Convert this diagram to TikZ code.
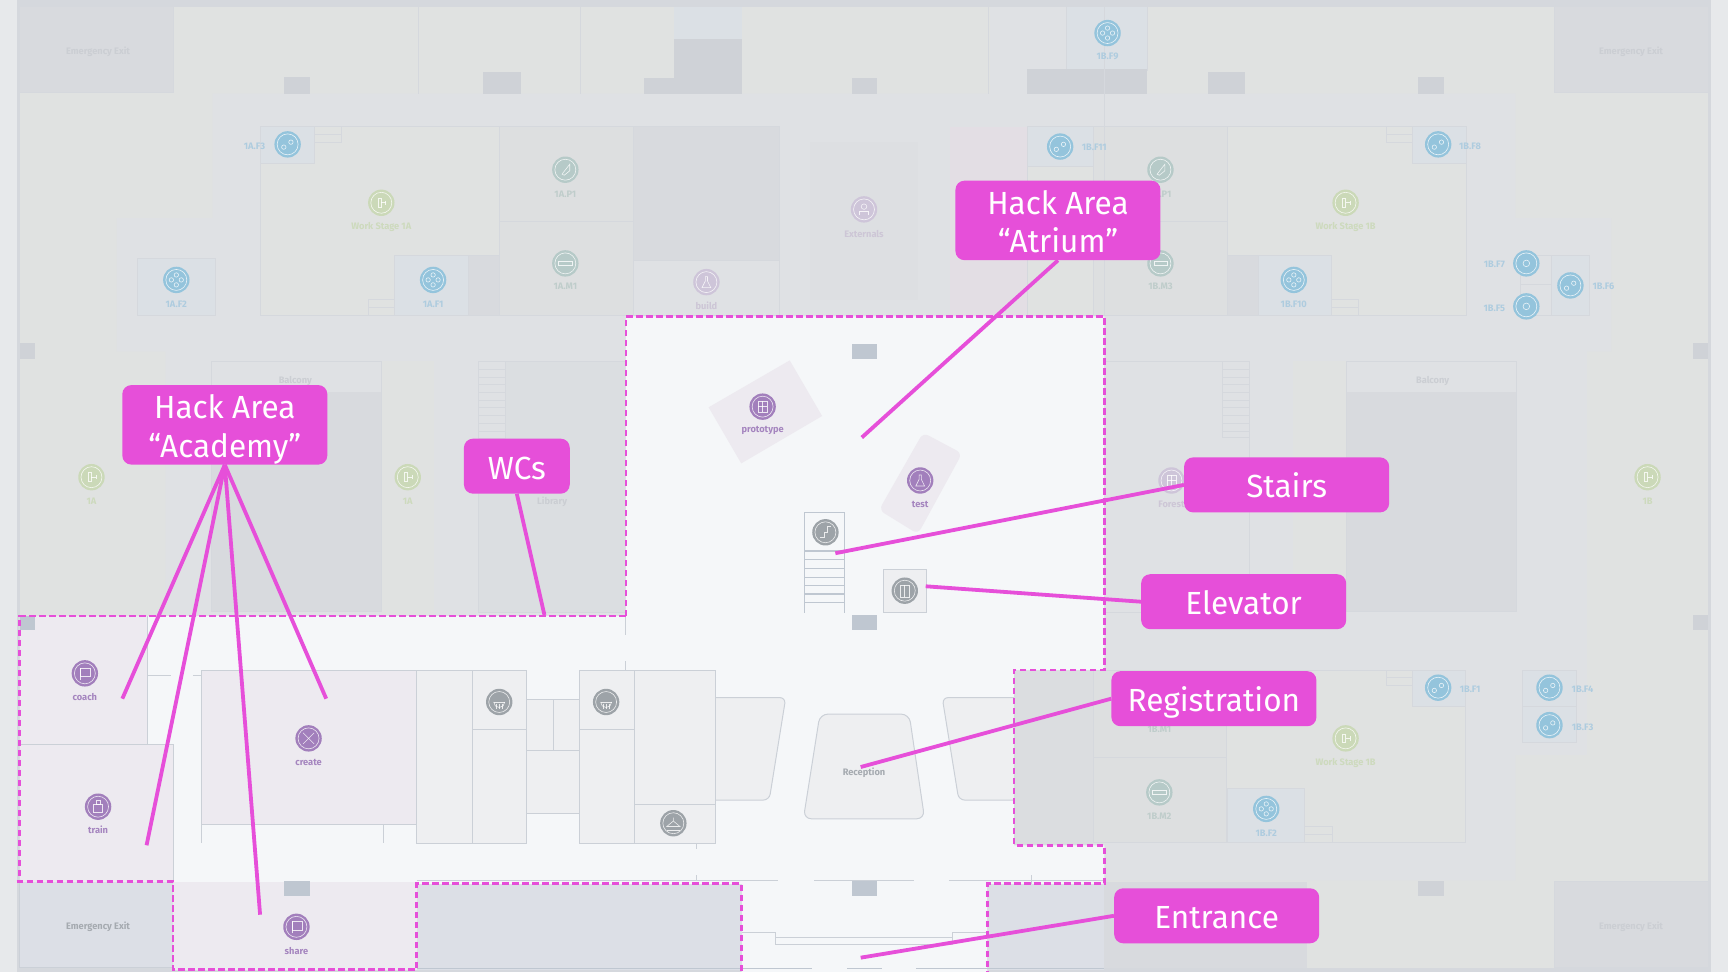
\documentclass[tikz,border=0pt]{standalone}
\usepackage{fontspec}
\setmainfont[FakeStretch=0.985]{Fira Sans}
\definecolor{margin}{HTML}{E7E9EB}
\definecolor{strip}{HTML}{D9DBDF}
\definecolor{floorg}{HTML}{E0E2E1}
\definecolor{corr}{HTML}{DFE1E4}
\definecolor{exitd}{HTML}{D8DADE}
\definecolor{colm}{HTML}{CFD2D7}
\definecolor{wallb}{HTML}{D5D8DD}
\definecolor{light}{HTML}{F5F7F9}
\definecolor{purp}{HTML}{EDEAF0}
\definecolor{blueroom}{HTML}{DBE0E5}
\definecolor{hlroom}{HTML}{DCDFE6}
\definecolor{pinkroom}{HTML}{E3DEE4}
\definecolor{wallc}{HTML}{CBD0D7}
\definecolor{colc}{HTML}{BFC7D1}
\definecolor{block}{HTML}{EEEFF1}
\definecolor{hot}{HTML}{E64FD9}
\definecolor{iblue}{HTML}{94C4DC}
\definecolor{igreen}{HTML}{CBD9B8}
\definecolor{iteal}{HTML}{B6CAC8}
\definecolor{ipurd}{HTML}{CEC5D9}
\definecolor{ipur}{HTML}{A27FBC}
\definecolor{igray}{HTML}{9DA3A8}
\definecolor{lblue}{HTML}{AECCDF}
\definecolor{lgreen}{HTML}{CDDABD}
\definecolor{lteal}{HTML}{BFCDCB}
\definecolor{lgray}{HTML}{CBCED3}
\definecolor{lpur}{HTML}{A585BF}
\definecolor{lgraystrong}{HTML}{A5AAB0}
\definecolor{lpurd}{HTML}{CDC6D6}
\newcounter{lblc}
\newcommand\lbl[4]{\stepcounter{lblc}\node[maplabel,text=#3] (lab\thelblc) at (#1,#2) {#4};}
\newcommand\mapicon[5]{%
  \node[iconbase,fill=#4] (#1) at (#2,#3) {};
  \begin{scope}[shift={(#2,#3)},white,line width=.6pt,draw opacity=.8]
    \draw (0,0) circle (9.5);
    #5
  \end{scope}}
\newcommand\gTwo{\draw (-3.5,2.5) circle (2); \draw (3,-2) circle (2);}
\newcommand\gOne{\draw (0,0) circle (3);}
\newcommand\gFour{\foreach \a/\b in {0/-4.5,0/4.5,-4.5/0,4.5/0}{\draw (\a,\b) circle (2);}}
\newcommand\gStage{\draw (-3,-4) rectangle (0,4); \draw (0,0) -- (4,0); \draw (4,-2) -- (4,2);}
\newcommand\gBar{\draw (-6,-1.5) rectangle (6,1.5);}
\newcommand\gRocket{\draw (-3,4) -- (4,-5) -- (4,1) -- (-1,5) -- cycle;}
\newcommand\gPerson{\draw (0,-2.5) circle (2.5); \draw (-4,5) -- (-4,2) -- (4,2) -- (4,5);}
\newcommand\gTree{\draw (-4,-5) rectangle (4,5); \draw (-4,0) -- (4,0); \draw (0,-5) -- (0,5);}
\newcommand\gFlask{\draw (-1,-5) -- (1,-5) -- (1,-1) -- (4,5) -- (-4,5) -- (-1,-1) -- cycle;}
\newcommand\gCross{\draw (-5,-5) -- (5,5); \draw (-5,5) -- (5,-5);}
\newcommand\gRain{\draw (-5,0) arc (180:0:5); \draw (-5,0) -- (5,0); \foreach \a in {-3,0,3}{\draw (\a,1.5) -- (\a,6);}}
\newcommand\gHanger{\draw (0,-5) -- (0,-2) -- (6,3) -- (-6,3) -- (0,-2); \draw (-6,6) -- (6,6);}
\newcommand\gStair{\draw (-5,5) -- (-1,5) -- (-1,0) -- (2,0) -- (2,-5) -- (5,-5);}
\newcommand\gLift{\draw (-4,-5) rectangle (4,6); \draw (0,-5) -- (0,6);}
\newcommand\gFlag{\draw (-4,-5) rectangle (5,3); \draw (-4,6) -- (-4,-5);}
\newcommand\gBottle{\draw (-2,-6) rectangle (2,-2); \draw (-4,-2) rectangle (4,5);}
\newcommand\tp{\rule{0pt}{33pt}}
\newcommand\bt{\rule[-7pt]{0pt}{0pt}}
\tikzset{
  dimwall/.style={draw=wallb,line width=.7pt},
  lightwall/.style={draw=wallc,line width=1pt},
  colblock/.style={fill=colm,draw=none},
  colstrong/.style={fill=colc,draw=none},
  iconbase/.style={circle,draw=none,minimum size=26.4pt,inner sep=0pt},
  maplabel/.style={font=\bfseries\fontsize{9.4pt}{10pt}\selectfont,inner sep=0pt,yshift=-1pt},
  callout/.style={fill=hot,rounded corners=9pt,text=white,align=center,inner sep=0pt,
    font=\fontsize{32pt}{38.5pt}\selectfont,minimum width=205pt,minimum height=55pt},
  leader/.style={draw=hot,line width=3.8pt},
  hackline/.style={draw=hot,line width=2.7pt,dash pattern=on 6.5pt off 3.5pt}
}
\begin{document}
\begin{tikzpicture}[x=1.10204pt,y=-1.10204pt]
\useasboundingbox (0,0) rectangle (1568,882);
% base
\fill[margin] (0,0) rectangle (1568,882);
\fill[wallb] (15,0) rectangle (1553,882);
\fill[floorg] (18,6) rectangle (1550,878);
% corridor
\fill[corr] (193,85) -- (1375,85) -- (1375,198) -- (1462,198) -- (1462,319) -- (1440,319) -- (1440,685) -- (1375,685) -- (1375,799) -- (150,799) -- (150,319) -- (106,319) -- (106,198) -- (193,198) -- cycle;
\fill[floorg] (346,328) rectangle (394,558);
\fill[floorg] (1173,328) rectangle (1222,558);
% top band
\draw[dimwall] (380,6) -- (380,85);
\draw[dimwall] (527,6) -- (527,85);
\draw[dimwall] (897,6) -- (897,85);
\fill[corr] (898,6) rectangle (968,85);
\fill[blueroom] (612,6) rectangle (673,35);
\fill[colm] (612,35) rectangle (673,85);
\fill[colm] (584,71) rectangle (612,85);
\draw[dimwall,fill=blueroom] (968,6) rectangle (1041,64);
\fill[colm] (932,63) rectangle (1041,85);
% exits
\draw[dimwall,fill=exitd] (18,6) rectangle (157,84);
\draw[dimwall,fill=exitd] (1410,6) rectangle (1550,84);
\draw[dimwall,fill=exitd] (1410,800) rectangle (1550,878);
\fill[exitd] (1002,800) rectangle (1186,878);
% columns
\foreach \a/\b/\c/\d in {258/70/281/85,438/65/473/85,773/71/796/85,1096/65/1130/85,1287/70/1310/85,1287/799/1310/813,18/311/32/326,1536/311/1550/326,1536/558/1550/572}{
  \fill[colblock] (\a,\b) rectangle (\c,\d);}
% upper rooms left
\draw[dimwall,fill=floorg] (236,115) rectangle (453,286);
\draw[dimwall,fill=blueroom] (236,115) rectangle (285,148);
\draw[dimwall,fill=floorg] (285,115) rectangle (310,129);
\draw[dimwall] (285,122) -- (310,122);
\draw[dimwall,fill=blueroom] (125,234) rectangle (195,286);
\draw[dimwall,fill=blueroom] (358,232) rectangle (425,286);
\draw[dimwall,fill=exitd] (425,232) rectangle (453,286);
\draw[dimwall] (334,272) rectangle (358,286);
\draw[dimwall] (334,279) -- (358,279);
\draw[dimwall,fill=exitd!40!floorg] (453,115) rectangle (575,201);
\draw[dimwall,fill=exitd!40!floorg] (453,201) rectangle (575,286);
\draw[dimwall,fill=exitd] (575,115) rectangle (707,236);
\draw[dimwall,fill=corr] (575,236) rectangle (707,286);
\fill[exitd!30!corr] (735,129) rectangle (833,272);
\fill[pinkroom] (862,115) rectangle (932,286);
\draw[dimwall,fill=floorg] (932,115) rectangle (992,286);
\draw[dimwall,fill=blueroom] (932,115) rectangle (992,151);
% upper rooms right
\draw[dimwall,fill=exitd!40!floorg] (992,115) rectangle (1114,201);
\draw[dimwall,fill=exitd!40!floorg] (992,201) rectangle (1114,286);
\draw[dimwall] (1002,6) -- (1002,286);
\draw[dimwall,fill=floorg] (1114,115) rectangle (1331,286);
\draw[dimwall,fill=blueroom] (1282,115) rectangle (1331,148);
\draw[dimwall,fill=floorg] (1258,115) rectangle (1282,129);
\draw[dimwall] (1258,122) -- (1282,122);
\draw[dimwall,fill=exitd] (1114,232) rectangle (1142,286);
\draw[dimwall,fill=blueroom] (1142,232) rectangle (1208,286);
\draw[dimwall,fill=floorg] (1208,272) rectangle (1233,286);
\draw[dimwall] (1208,279) -- (1233,279);
\draw[dimwall,fill=blueroom] (1408,232) rectangle (1442,286);
\draw[dimwall] (1380,232) rectangle (1408,258);
\draw[dimwall] (1380,258) rectangle (1408,286);
% mid rooms
\fill[corr] (192,328) rectangle (346,356);
\fill[exitd] (192,356) rectangle (346,555);
\draw[wallb,line width=1.2pt] (192,328) rectangle (346,555);
\draw[dimwall,fill=exitd!50!corr] (434,328) rectangle (569,556);
\draw[dimwall,fill=corr] (434,328) rectangle (459,398);
\foreach \yy in {335,342,349,356,363,370,377,384,391}{\draw[dimwall] (434,\yy) -- (459,\yy);}
\draw[dimwall,fill=corr] (1002,328) rectangle (1134,556);
\draw[dimwall,fill=corr] (1109,328) rectangle (1134,397);
\foreach \yy in {335,342,349,356,363,370,377,384,391}{\draw[dimwall] (1109,\yy) -- (1134,\yy);}
\fill[corr] (1222,328) rectangle (1376,356);
\fill[exitd] (1222,356) rectangle (1376,555);
\draw[wallb,line width=1.2pt] (1222,328) rectangle (1376,555);
% lower right rooms
\fill[exitd!60!corr] (920,608) rectangle (992,767);
\draw[dimwall,fill=exitd!40!floorg] (992,608) rectangle (1113,687);
\draw[dimwall,fill=exitd!40!floorg] (992,687) rectangle (1113,764);
\draw[dimwall,fill=floorg] (1113,608) rectangle (1330,764);
\draw[dimwall,fill=blueroom] (1282,608) rectangle (1330,641);
\draw[dimwall] (1258,608) rectangle (1282,622);
\draw[dimwall] (1258,615) -- (1282,615);
\draw[dimwall,fill=blueroom] (1381,608) rectangle (1430,641);
\draw[dimwall,fill=blueroom] (1381,641) rectangle (1430,674);
\draw[dimwall,fill=blueroom] (1114,715) rectangle (1184,764);
\draw[dimwall] (1184,750) rectangle (1209,764);
\draw[dimwall] (1184,757) -- (1209,757);
% light area
\fill[light] (568,287) -- (1002,287) -- (1002,608) -- (920,608) -- (920,767) -- (1002,767) -- (1002,802) -- (896,802) -- (896,882) -- (673,882) -- (673,802) -- (157,802) -- (157,800) -- (18,800) -- (18,559) -- (568,559) -- cycle;
\fill[hlroom] (378,802) rectangle (673,880);
\fill[hlroom] (896,802) rectangle (1002,880);
\fill[hlroom] (18,800) rectangle (157,878);
\draw[wallc,line width=1.2pt] (18,800) -- (18,878) -- (157,878);
\fill[purp] (18,559) rectangle (134,676);
\fill[purp] (18,676) rectangle (157,800);
\fill[purp] (183,608) rectangle (378,748);
\fill[purp] (157,800) rectangle (378,880);
\fill[purp] (716.6,327) -- (746,377.5) -- (672.6,420.5) -- (643,369.6) -- cycle;
\fill[purp,rounded corners=6pt] (837.6,392.6) -- (873,411.4) -- (833,484.6) -- (797.6,462.8) -- cycle;
% strong columns
\foreach \a/\b/\c/\d in {773/312/796/326,773/558/796/572,773/799/796/813,258/799/281/813,18/559/32/572}{
  \fill[colstrong] (\a,\b) rectangle (\c,\d);}
% walls of lower left
\draw[lightwall] (134,559) -- (134,676);
\draw[lightwall] (18,676) -- (157,676) -- (157,800);
\draw[lightwall] (134,613) -- (155,613);
\draw[lightwall] (175,613) -- (183,613);
\draw[lightwall] (183,608) -- (183,765);
\draw[lightwall] (183,608) -- (378,608);
\draw[lightwall] (183,748) -- (378,748);
\draw[lightwall] (348,748) -- (348,765);
% desks
\draw[lightwall,fill=block,rounded corners=6pt] (649,633) -- (713,633) -- (698,726) -- (649,726);
\draw[lightwall,fill=block,rounded corners=6pt] (920,633) -- (855,633) -- (870,726) -- (920,726);
\draw[lightwall,fill=block,rounded corners=8pt] (744,648) -- (825,648) -- (839,743) -- (729,743) -- cycle;
% wc block
\draw[lightwall,fill=block] (378,608) -- (478,608) -- (478,635) -- (526,635) -- (526,608) -- (649,608) -- (649,765) -- (526,765) -- (526,738) -- (478,738) -- (478,765) -- (378,765) -- cycle;
\draw[lightwall] (429,608) -- (429,765);
\draw[lightwall] (429,662) -- (478,662);
\draw[lightwall] (478,635) -- (478,738);
\draw[lightwall] (526,635) -- (526,738);
\draw[lightwall] (502,635) -- (502,681);
\draw[lightwall] (478,681) -- (526,681);
\draw[lightwall] (526,662) -- (576,662);
\draw[lightwall] (576,608) -- (576,765);
\draw[lightwall] (576,730) -- (649,730);
% ticks and entrance
\draw[lightwall] (568,559) -- (568,576);
\draw[lightwall] (568,600) -- (568,608);
\draw[lightwall] (632,765) -- (632,770);
\draw[lightwall] (632,794) -- (632,799);
\draw[lightwall] (936,794) -- (936,802);
\draw[wallc,line width=.8pt] (378,799) -- (706,799);
\draw[wallc,line width=.8pt] (739,799) -- (829,799);
\draw[wallc,line width=.8pt] (861,799) -- (1002,799);
\draw[lightwall] (673,846) -- (704,846) -- (704,857) -- (864,857) -- (864,846) -- (896,846);
\draw[lightwall] (704,851) -- (864,851);
\draw[colc,line width=1.4pt] (378,879) -- (737,879);
\draw[colc,line width=1.4pt] (769,879) -- (800,879);
\draw[colc,line width=1.4pt] (831,879) -- (1002,879);
% stairs
\draw[colc,line width=1.2pt] (730,556) -- (730,465) -- (766,465) -- (766,556);
\foreach \yy in {500,508,516,524,531,539,547}{\draw[colc,line width=1.2pt] (730,\yy) -- (766,\yy);}
\draw[lightwall,fill=block] (802,556) -- (802,517) -- (841,517) -- (841,556) -- cycle;
% icons blue
\mapicon{i1}{261}{131}{iblue}{\gTwo}
\mapicon{i2}{160}{254}{iblue}{\gFour}
\mapicon{i3}{393}{254}{iblue}{\gFour}
\mapicon{i4}{1005}{30}{iblue}{\gFour}
\mapicon{i5}{962}{133}{iblue}{\gTwo}
\mapicon{i6}{1305}{131}{iblue}{\gTwo}
\mapicon{i7}{1174}{254}{iblue}{\gFour}
\mapicon{i8}{1385}{239}{iblue}{\gOne}
\mapicon{i9}{1385}{278}{iblue}{\gOne}
\mapicon{i10}{1425}{259}{iblue}{\gTwo}
\mapicon{i11}{1305}{624}{iblue}{\gTwo}
\mapicon{i12}{1406}{624}{iblue}{\gTwo}
\mapicon{i13}{1406}{658}{iblue}{\gTwo}
\mapicon{i14}{1149}{734}{iblue}{\gFour}
% icons green
\mapicon{i15}{346}{184}{igreen}{\gStage}
\mapicon{i16}{1221}{184}{igreen}{\gStage}
\mapicon{i17}{1221}{670}{igreen}{\gStage}
\mapicon{i18}{83}{433}{igreen}{\gStage}
\mapicon{i19}{370}{433}{igreen}{\gStage}
\mapicon{i20}{1495}{433}{igreen}{\gStage}
% icons teal
\mapicon{i21}{513}{154}{iteal}{\gRocket}
\mapicon{i22}{513}{239}{iteal}{\gBar}
\mapicon{i23}{1053}{154}{iteal}{\gRocket}
\mapicon{i24}{1053}{239}{iteal}{\gBar}
\mapicon{i25}{1052}{719}{iteal}{\gBar}
% icons purple dim
\mapicon{i26}{641}{256}{ipurd}{\gFlask}
\mapicon{i27}{784}{190}{ipurd}{\gPerson}
\mapicon{i28}{1063}{436}{ipurd}{\gTree}
% icons purple strong
\mapicon{i29}{692}{369}{ipur}{\gTree}
\mapicon{i30}{835}{436}{ipur}{\gFlask}
\mapicon{i31}{77}{611}{ipur}{\gFlag}
\mapicon{i32}{89}{732}{ipur}{\gBottle}
\mapicon{i33}{280}{670}{ipur}{\gCross}
\mapicon{i34}{269}{841}{ipur}{\gFlag}
% icons gray
\mapicon{i35}{453}{637}{igray}{\gRain}
\mapicon{i36}{550}{637}{igray}{\gRain}
\mapicon{i37}{611}{747}{igray}{\gHanger}
\mapicon{i38}{749}{483}{igray}{\gStair}
\mapicon{i39}{821}{536}{igray}{\gLift}
% labels
\lbl{89}{46}{lgray}{Emergency Exit}
\lbl{1480}{46}{lgray}{Emergency Exit}
\lbl{89}{840}{lgraystrong}{Emergency Exit}
\lbl{1480}{840}{lgray}{Emergency Exit}
\lbl{231}{132}{lblue}{1A.F3}
\lbl{160}{275}{lblue}{1A.F2}
\lbl{393}{275}{lblue}{1A.F1}
\lbl{1005}{50}{lblue}{1B.F9}
\lbl{993}{133}{lblue}{1B.F11}
\lbl{1334}{132}{lblue}{1B.F8}
\lbl{1174}{275}{lblue}{1B.F10}
\lbl{1356}{239}{lblue}{1B.F7}
\lbl{1356}{279}{lblue}{1B.F5}
\lbl{1455}{259}{lblue}{1B.F6}
\lbl{1334}{625}{lblue}{1B.F1}
\lbl{1436}{625}{lblue}{1B.F4}
\lbl{1436}{659}{lblue}{1B.F3}
\lbl{1149}{755}{lblue}{1B.F2}
\lbl{346}{205}{lgreen}{Work Stage 1A}
\lbl{1221}{205}{lgreen}{Work Stage 1B}
\lbl{1221}{691}{lgreen}{Work Stage 1B}
\lbl{83}{454}{lgreen}{1A}
\lbl{370}{454}{lgreen}{1A}
\lbl{1495}{454}{lgreen}{1B}
\lbl{513}{175}{lteal}{1A.P1}
\lbl{513}{259}{lteal}{1A.M1}
\lbl{1053}{175}{lteal}{1B.P1}
\lbl{1053}{259}{lteal}{1B.M3}
\lbl{1052}{661}{lteal}{1B.M1}
\lbl{1052}{740}{lteal}{1B.M2}
\lbl{641}{277}{lpurd}{build}
\lbl{784}{211}{lpurd}{Externals}
\lbl{1063}{457}{lpurd}{Forest}
\lbl{268}{345}{lgray}{Balcony}
\lbl{1300}{345}{lgray}{Balcony}
\lbl{501}{454}{lgray}{Library}
\lbl{692}{390}{lpur}{prototype}
\lbl{835}{457}{lpur}{test}
\lbl{77}{632}{lpur}{coach}
\lbl{89}{752}{lpur}{train}
\lbl{280}{691}{lpur}{create}
\lbl{269}{862}{lpur}{share}
\lbl{784}{700}{lgraystrong}{Reception}
% dashed outline
\draw[hackline] (568,559) -- (568,287) -- (1002,287) -- (1002,608) -- (920,608) -- (920,767) -- (1002,767) -- (1002,802) -- (896,802) -- (896,882);
\draw[hackline] (568,559) -- (18,559) -- (18,800);
\draw[hackline] (15,800) -- (157,800) -- (157,880) -- (378,880) -- (378,802) -- (673,802) -- (673,882);
% end points of leaders
\coordinate (atriumEnd) at (782,397);
\coordinate (acadA) at (111,634);
\coordinate (acadB) at (133,767);
\coordinate (acadC) at (236,830);
\coordinate (acadD) at (296,634);
\coordinate (wcEnd) at (494,558);
\coordinate (stairsEnd) at (758,502);
\coordinate (elevEnd) at (840,532);
\coordinate (regEnd) at (781,696);
\coordinate (entEnd) at (781,869);
% callouts
\node[callout,minimum height=79.5pt] (atrium) at (960,200) {\tp Hack Area\\“Atrium”\bt};
\node[callout,minimum height=79.5pt] (academy) at (204,385.5) {\tp Hack Area\\“Academy”\bt};
\node[callout,minimum width=105.8pt] (wcs) at (469,423) {\tp WCs\bt};
\node[callout] (stairs) at (1167.5,440) {\tp Stairs\bt};
\node[callout] (elevator) at (1128.5,546) {\tp Elevator\bt};
\node[callout] (registration) at (1101.5,634) {\tp Registration\bt};
\node[callout] (entrance) at (1104,831) {\tp Entrance\bt};
% leaders
\begin{scope}[on background layer/.try]
\end{scope}
\draw[leader] (atrium.south) -- (atriumEnd);
\draw[leader] (academy.south) -- (acadA);
\draw[leader] (academy.south) -- (acadB);
\draw[leader] (academy.south) -- (acadC);
\draw[leader] (academy.south) -- (acadD);
\draw[leader] (wcs.south) -- (wcEnd);
\draw[leader] (stairs.west) -- (stairsEnd);
\draw[leader] (elevator.west) -- (elevEnd);
\draw[leader] (registration.west) -- (regEnd);
\draw[leader] (entrance.west) -- (entEnd);
\end{tikzpicture}
\end{document}
